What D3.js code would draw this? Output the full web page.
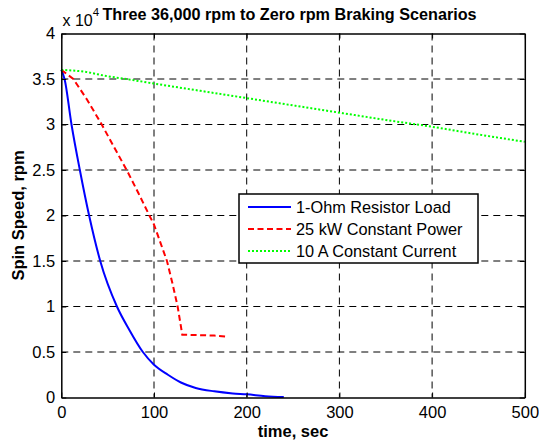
<!DOCTYPE html>
<html>
<head>
<meta charset="utf-8">
<script src="https://cdn.jsdelivr.net/npm/d3@7"></script>
<style>
  html, body { margin: 0; padding: 0; background: #fff; }
  svg { display: block; font-family: Arial, "Liberation Sans", sans-serif; }
</style>
</head>
<body>
<svg id="chart" width="539" height="440"></svg>
<script>
// values (time in sec, speed in rpm)
const resistorT = [0, 3.5, 11, 20, 30, 42, 60, 73, 88, 100, 115, 129, 145, 165, 185, 200, 220, 240];
const resistorV = [36000, 35000, 30000, 25000, 20000, 15000, 10000, 7500, 5000, 3600, 2500, 1650, 1050, 680, 450, 350, 150, 50];

const powerT = [0, 13, 28, 43.6, 57, 70.5, 83, 95, 100, 107, 114, 120, 125.5, 130.5, 150, 165, 177];
const powerV = [36000, 35000, 32700, 30000, 27500, 25000, 22500, 20000, 19000, 17000, 15000, 12500, 10000, 6900, 6850, 6800, 6700];

const currentT = [0, 25, 50, 70, 100, 150, 200, 250, 300, 350, 400, 450, 500];
const currentV = [36000, 35800, 35300, 35000, 34500, 33700, 32900, 32100, 31300, 30500, 29750, 28900, 28100];

const xTicks = [0, 100, 200, 300, 400, 500];
const yTicks = [0, 0.5, 1, 1.5, 2, 2.5, 3, 3.5, 4];
const seriesNames = ["1-Ohm Resistor Load", "25 kW Constant Power", "10 A Constant Current"];

const series = [
  { name: seriesNames[0], t: resistorT, v: resistorV, color: "#0000ff", dash: null, curve: d3.curveMonotoneX },
  { name: seriesNames[1], t: powerT, v: powerV, color: "#ff0000", dash: "6,3.5", curve: d3.curveLinear },
  { name: seriesNames[2], t: currentT, v: currentV, color: "#00ff00", dash: "2,2", curve: d3.curveMonotoneX },
];

const svg = d3.select("#chart");
const margin = { left: 61.3, right: 539 - 524.8, top: 33.5, bottom: 440 - 397.5 };
const W = 539 - margin.left - margin.right;
const H = 440 - margin.top - margin.bottom;

const x = d3.scaleLinear().domain([0, 500]).range([0, W]);
const y = d3.scaleLinear().domain([0, 4]).range([H, 0]);   // units of 10^4 rpm

const g = svg.append("g").attr("transform", `translate(${margin.left},${margin.top})`);

// grid
g.append("g").selectAll("line").data(xTicks.slice(1, -1)).join("line")
  .attr("x1", d => x(d)).attr("x2", d => x(d)).attr("y1", 0).attr("y2", H)
  .attr("stroke", "#000").attr("stroke-width", 1).attr("stroke-dasharray", "7,5");
g.append("g").selectAll("line").data(yTicks.slice(1, -1)).join("line")
  .attr("y1", d => y(d)).attr("y2", d => y(d)).attr("x1", 0).attr("x2", W)
  .attr("stroke", "#000").attr("stroke-width", 1).attr("stroke-dasharray", "7,5");

// data lines
series.forEach(s => {
  const line = d3.line().curve(s.curve).x(d => x(d[0])).y(d => y(d[1] / 10000));
  g.append("path")
    .datum(s.t.map((t, i) => [t, s.v[i]]))
    .attr("d", line)
    .attr("fill", "none")
    .attr("stroke", s.color)
    .attr("stroke-width", 2)
    .attr("stroke-dasharray", s.dash);
});

// axes (ticks inward, MATLAB style)
const fmtY = d => (d === 0 ? "0" : d3.format("~g")(d));
const xAxis = g.append("g").attr("transform", `translate(0,${H})`)
  .call(d3.axisBottom(x).tickValues(xTicks).tickSizeInner(-5).tickSizeOuter(0).tickPadding(9));
const xTop = g.append("g")
  .call(d3.axisTop(x).tickValues(xTicks).tickSizeInner(-5).tickSizeOuter(0).tickFormat(""));
const yAxis = g.append("g")
  .call(d3.axisLeft(y).tickValues(yTicks).tickFormat(fmtY).tickSizeInner(-5).tickSizeOuter(0).tickPadding(6));
const yRight = g.append("g").attr("transform", `translate(${W},0)`)
  .call(d3.axisRight(y).tickValues(yTicks).tickSizeInner(-5).tickSizeOuter(0).tickFormat(""));

[xAxis, xTop, yAxis, yRight].forEach(a => {
  a.select(".domain").attr("stroke", "#000").attr("stroke-width", 1.5);
  a.selectAll(".tick line").attr("stroke", "#000");
  a.selectAll("text").attr("font-size", 16.5).attr("fill", "#000")
    .attr("font-family", "Arial, 'Liberation Sans', sans-serif");
});

// exponent label
const expo = svg.append("text").attr("x", 62.5).attr("y", 26)
  .attr("font-size", 16).attr("fill", "#000");
expo.append("tspan").text("x 10");
expo.append("tspan").attr("dy", -10).attr("font-size", 11.5).text("4");

// title and axis labels
svg.append("text").attr("x", 289.5).attr("y", 20).attr("text-anchor", "middle")
  .attr("font-size", 16.2).attr("font-weight", "bold")
  .text("Three 36,000 rpm to Zero rpm Braking Scenarios");
svg.append("text").attr("x", margin.left + W / 2).attr("y", 437).attr("text-anchor", "middle")
  .attr("font-size", 16.5).attr("font-weight", "bold").text("time, sec");
svg.append("text")
  .attr("transform", `translate(24,${margin.top + H / 2}) rotate(-90)`)
  .attr("text-anchor", "middle").attr("font-size", 16.5).attr("font-weight", "bold")
  .text("Spin Speed, rpm");

// legend
const leg = svg.append("g").attr("transform", "translate(239,194)");
leg.append("rect").attr("width", 239).attr("height", 69)
  .attr("fill", "#fff").attr("stroke", "#000").attr("stroke-width", 1.5);
series.forEach((s, i) => {
  const yy = 13 + i * 22;
  leg.append("line").attr("x1", 9).attr("x2", 52).attr("y1", yy).attr("y2", yy)
    .attr("stroke", s.color).attr("stroke-width", 2).attr("stroke-dasharray", s.dash);
  leg.append("text").attr("x", 57).attr("y", yy + 6).attr("font-size", 16.3).text(s.name);
});
</script>
</body>
</html>
